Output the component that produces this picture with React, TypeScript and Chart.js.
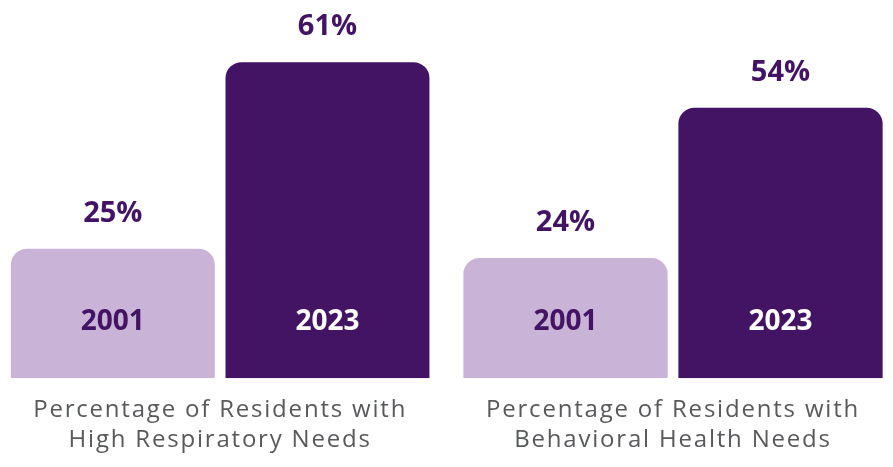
import React, { useEffect, useRef } from 'react';
import { Chart, registerables } from 'chart.js';

Chart.register(...registerables);

// ---- data ----
const years = ['2001', '2023'];
const respiratoryValues = [25, 61];
const behavioralValues = [24, 54];
const respiratoryTitle = ['Percentage of Residents with', 'High Respiratory Needs'];
const behavioralTitle = ['Percentage of Residents with', 'Behavioral Health Needs'];

// ---- styles ----
const FONT = '"Open Sans", sans-serif';
const PURPLE = '#421463';
const LIGHT = '#C9B4D7';
const barColors = [LIGHT, PURPLE];
const yearTextColors = [PURPLE, '#FFFFFF'];
const GREY = '#58595B';

const spacingPlugin = {
  id: 'titleSpacing',
  beforeDraw(chart: any) {
    (chart.ctx as any).letterSpacing = '1.8px';
  },
};

const labelPlugin = {
  id: 'barLabels',
  afterDatasetsDraw(chart: any) {
    const ctx = chart.ctx;
    const meta = chart.getDatasetMeta(0);
    const ds = chart.data.datasets[0];
    ctx.save();
    (ctx as any).letterSpacing = '0px';
    ctx.textAlign = 'center';
    ctx.textBaseline = 'alphabetic';
    meta.data.forEach((bar: any, i: number) => {
      const { x, y, base } = bar.getProps(['x', 'y', 'base'], true);
      ctx.font = `bold 29px ${FONT}`;
      ctx.fillStyle = PURPLE;
      ctx.fillText(`${ds.data[i]}%`, x, y - 27);
      ctx.font = `bold 28px ${FONT}`;
      ctx.fillStyle = yearTextColors[i];
      ctx.fillText(chart.data.labels[i], x, base - 48);
    });
    ctx.restore();
  },
};

function makeChart(
  canvas: HTMLCanvasElement,
  values: number[],
  title: string[],
  yMax: number,
  padLeft: number,
  padRight: number
) {
  return new Chart(canvas, {
    type: 'bar',
    data: {
      labels: years,
      datasets: [
        {
          data: values,
          backgroundColor: barColors,
          borderRadius: 16,
          borderSkipped: 'start',
          barPercentage: 0.95,
          categoryPercentage: 1,
        },
      ],
    },
    options: {
      responsive: false,
      animation: false,
      devicePixelRatio: 1,
      layout: { padding: { left: padLeft, right: padRight, top: 0, bottom: 0 } },
      plugins: { legend: { display: false }, tooltip: { enabled: false } },
      scales: {
        y: { display: false, min: 0, max: yMax },
        x: {
          grid: { display: false, drawTicks: false },
          border: { display: false },
          ticks: { display: false },
          title: {
            display: true,
            text: title,
            color: GREY,
            font: { family: FONT, size: 24, lineHeight: 1.25 },
            padding: { top: 17.2, bottom: 11.5 },
          },
        },
      },
    },
    plugins: [spacingPlugin, labelPlugin],
  });
}

export default function App() {
  const leftRef = useRef<HTMLCanvasElement>(null);
  const rightRef = useRef<HTMLCanvasElement>(null);

  useEffect(() => {
    const c1 = makeChart(leftRef.current!, respiratoryValues, respiratoryTitle, 73, 5.5, 11.2);
    const c2 = makeChart(rightRef.current!, behavioralValues, behavioralTitle, 75.5, 12, 5);
    return () => {
      c1.destroy();
      c2.destroy();
    };
  }, []);

  return (
    <div style={{ position: 'absolute', left: 0, top: 0, width: 893, height: 467, background: '#fff' }}>
      <canvas ref={leftRef} width={446} height={467} style={{ position: 'absolute', left: 0, top: 0 }} />
      <canvas ref={rightRef} width={447} height={467} style={{ position: 'absolute', left: 446, top: 0 }} />
    </div>
  );
}
